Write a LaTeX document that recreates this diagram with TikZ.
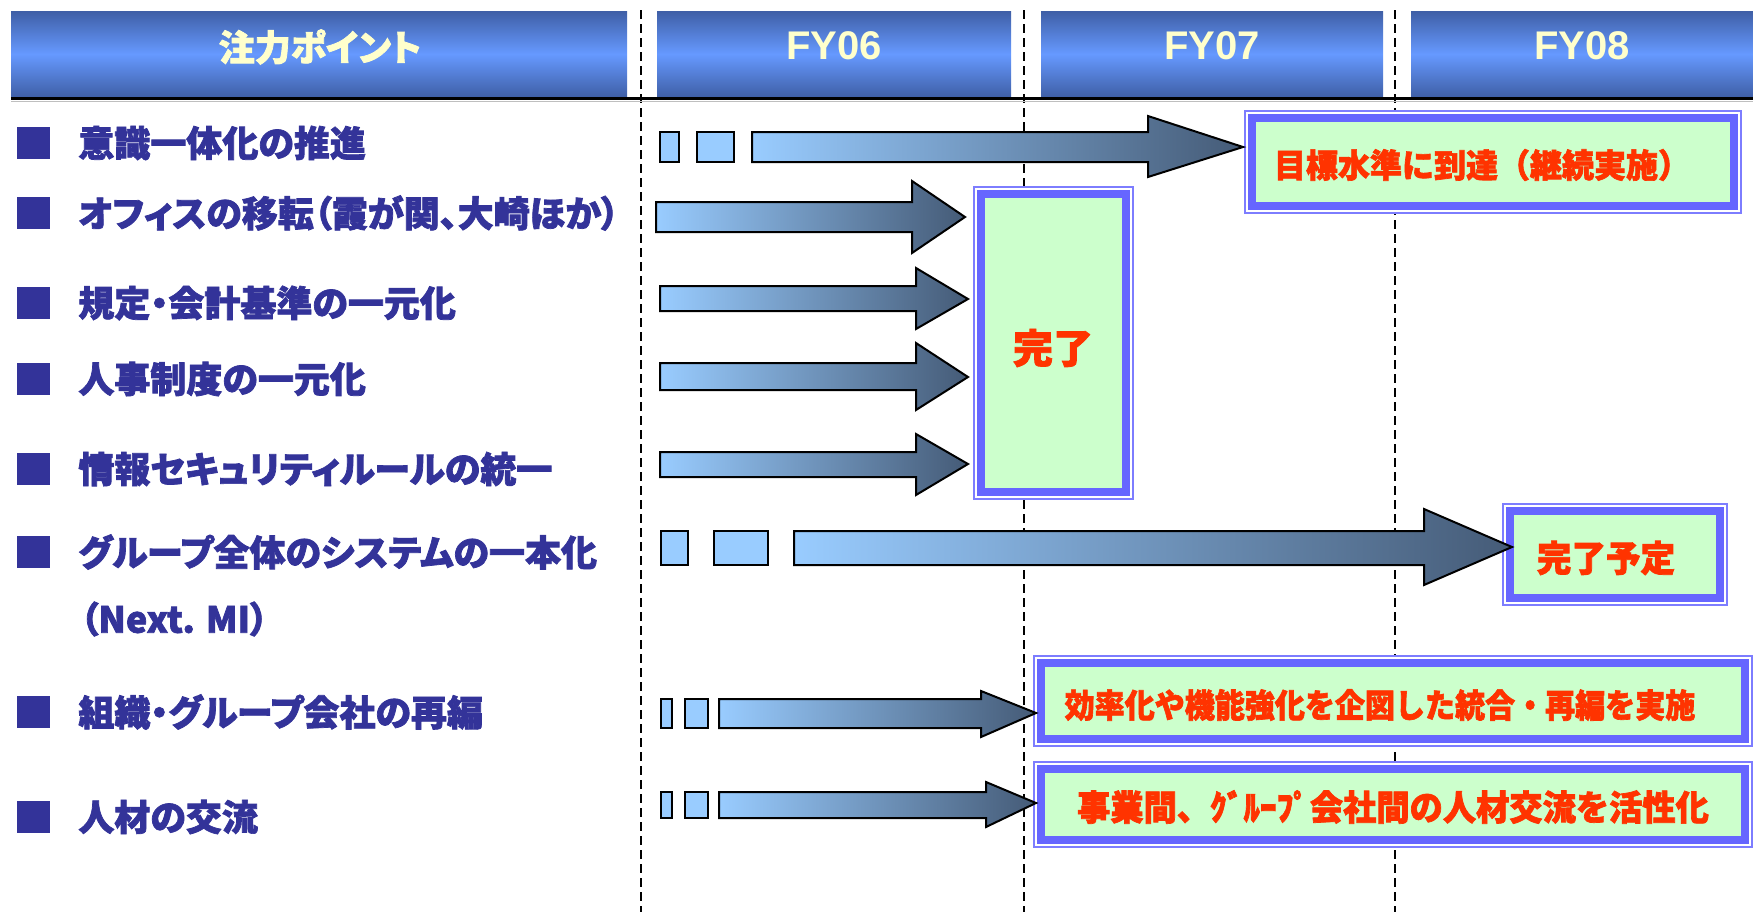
\documentclass[tikz,border=0pt]{standalone}
\usepackage{fontspec}
\newfontfamily\jp[RawFeature=+palt,BoldFeatures={FakeBold=2}]{Noto Sans CJK JP}
\newfontfamily\jpf[BoldFeatures={FakeBold=2}]{Noto Sans CJK JP}
\newfontfamily\arl{Liberation Sans}
\definecolor{hdark}{HTML}{3F5FA6}
\definecolor{hlight}{HTML}{6699FF}
\definecolor{htext}{HTML}{FFFFCC}
\definecolor{navy}{HTML}{333399}
\definecolor{boxblue}{HTML}{6666FF}
\definecolor{boxfill}{HTML}{CCFFCC}
\definecolor{redtxt}{HTML}{FF3300}
\definecolor{arrL}{HTML}{99CCFF}
\definecolor{arrR}{HTML}{455B77}
\newcommand{\jpl}{\jp\bfseries\fontsize{18pt}{22pt}\selectfont}
\newcommand{\barrow}[7]{\shadedraw[arrowstyle] (#1,#2) -- (#4,#2) -- (#4,#5) -- #7 -- (#4,#6) -- (#4,#3) -- (#1,#3) -- cycle;}
\begin{document}
\begin{tikzpicture}[x=0.5pt,y=-0.5pt,
  vdash/.style={black,line width=1pt,dash pattern=on 4.5pt off 2.5pt},
  hdr/.style={top color=hdark,bottom color=hdark,middle color=hlight,minimum height=43pt,inner sep=0pt,outer sep=0pt},
  hdrtxt/.style={text=htext,inner sep=0pt},
  bulletsq/.style={fill=navy,minimum width=16.5pt,minimum height=16pt,inner sep=0pt},
  itemtxt/.style={text=navy,anchor=west,inner sep=0pt,font=\jpl},
  arrowstyle/.style={left color=arrL,right color=arrR,draw=black,line width=1pt,line join=miter},
  sq/.style={fill=arrL,draw=black,line width=1pt},
  thinbox/.style={draw=boxblue!85,fill=white,line width=0.8pt},
  greenbox/.style={draw=boxblue,line width=4pt,fill=boxfill,inner sep=0pt,outer sep=0pt},
  redt/.style={text=redtxt,inner sep=0pt}]
\useasboundingbox (0,0) rectangle (1753,912);
% dashed year separators
\coordinate (d1t) at (641,10); \coordinate (d1b) at (641,912);
\coordinate (d2t) at (1024,10); \coordinate (d2b) at (1024,912);
\coordinate (d3t) at (1395,10); \coordinate (d3b) at (1395,912);
\draw[vdash] (d1t) -- (d1b);
\draw[vdash] (d2t) -- (d2b);
\draw[vdash] (d3t) -- (d3b);
% header
\node[hdr,minimum width=308pt] (h0) at (319,54) {};
\node[hdr,minimum width=177pt] (h1) at (834,54) {};
\node[hdr,minimum width=171pt] (h2) at (1212,54) {};
\node[hdr,minimum width=171pt] (h3) at (1582,54) {};
\node[hdrtxt,font={\jp\bfseries\fontsize{18pt}{22pt}\selectfont}] (h0t) at (320,47) {注力ポイント};
\node[hdrtxt,font={\arl\bfseries\fontsize{20pt}{24pt}\selectfont}] (h1t) at (834,46) {FY06};
\node[hdrtxt,font={\arl\bfseries\fontsize{20pt}{24pt}\selectfont}] (h2t) at (1212,46) {FY07};
\node[hdrtxt,font={\arl\bfseries\fontsize{20pt}{24pt}\selectfont}] (h3t) at (1582,46) {FY08};
\coordinate (rl) at (11,98.5); \coordinate (rr) at (1753,98.5);
\draw[black!25,line width=0.6pt] (11,101.5) -- (1753,101.5);
\draw[black,line width=1.5pt] (rl) -- (rr);
% left items
\node[bulletsq] (s1) at (33.5,143) {}; \node[itemtxt] (t1) at (78,143) {意識一体化の推進};
\node[bulletsq] (s2) at (33.5,213) {}; \node[itemtxt] (t2) at (78,213) {オフィスの移転（霞が関、大崎ほか）};
\node[bulletsq] (s3) at (33.5,303) {}; \node[itemtxt] (t3) at (78,303) {規定・会計基準の一元化};
\node[bulletsq] (s4) at (33.5,379) {}; \node[itemtxt] (t4) at (78,379) {人事制度の一元化};
\node[bulletsq] (s5) at (33.5,469) {}; \node[itemtxt] (t5) at (78,469) {情報セキュリティルールの統一};
\node[bulletsq] (s6) at (33.5,552) {}; \node[itemtxt] (t6) at (78,552) {グループ全体のシステムの一本化};
\node[itemtxt] (t6b) at (80,619) {（Next. MI）};
\node[bulletsq] (s7) at (33.5,712) {}; \node[itemtxt] (t7) at (78,712) {組織・グループ会社の再編};
\node[bulletsq] (s8) at (33.5,817) {}; \node[itemtxt] (t8) at (78,817) {人材の交流};
% result boxes
\draw[thinbox] (1245,111) rectangle (1741,213);
\node[greenbox,minimum width=241pt,minimum height=44pt] (b1) at (1493,162) {};
\draw[thinbox] (974,187) rectangle (1133,499);
\node[greenbox,minimum width=72.5pt,minimum height=149pt] (b2) at (1053.5,343) {};
\draw[thinbox] (1503,504) rectangle (1727,605);
\node[greenbox,minimum width=105pt,minimum height=43.5pt] (b3) at (1615,554.5) {};
\draw[thinbox] (1034,656) rectangle (1752,746);
\node[greenbox,minimum width=352pt,minimum height=38pt] (b4) at (1393,701) {};
\draw[thinbox] (1034,762) rectangle (1752,847);
\node[greenbox,minimum width=352pt,minimum height=35.5pt] (b5) at (1393,804.5) {};
\node[redt,font={\jpf\bfseries\fontsize{16.5pt}{20pt}\selectfont}] (r1) at (1482,165) {\scalebox{0.97}[1]{目標水準に到達（継続実施）}};
\node[redt,font={\jpf\bfseries\fontsize{20pt}{24pt}\selectfont}] (r2) at (1053,348) {完了};
\node[redt,font={\jpf\bfseries\fontsize{18pt}{22pt}\selectfont}] (r3) at (1606,558) {\scalebox{0.96}[1]{完了予定}};
\node[redt,font={\jpf\bfseries\fontsize{16.5pt}{20pt}\selectfont}] (r4) at (1380,705) {\scalebox{0.91}[1]{効率化や機能強化を企図した統合・再編を実施}};
\node[redt,font={\jpf\bfseries\fontsize{17.5pt}{20pt}\selectfont}] (r5) at (1393,807) {\scalebox{0.95}[1]{事業間、ｸﾞﾙｰﾌﾟ会社間の人材交流を活性化}};
% arrows
\coordinate (p1) at (1243,147);
\coordinate (p2) at (965,217);
\coordinate (p3) at (968,299);
\coordinate (p4) at (968,377);
\coordinate (p5) at (968,464);
\coordinate (p6) at (1512,547);
\coordinate (p7) at (1036,713);
\coordinate (p8) at (1036,803);
\filldraw[sq] (660,132) rectangle (679,162);
\filldraw[sq] (697,132) rectangle (734,162);
\barrow{752}{132}{162}{1148}{116}{177}{(p1)}
\barrow{656}{202}{232}{912}{181}{253}{(p2)}
\barrow{660}{286}{311}{916}{268}{329}{(p3)}
\barrow{660}{363}{390}{916}{343}{410}{(p4)}
\barrow{660}{452}{477}{916}{434}{495}{(p5)}
\filldraw[sq] (661,531) rectangle (688,565);
\filldraw[sq] (714,531) rectangle (768,565);
\barrow{794}{531}{565}{1424}{509}{585}{(p6)}
\filldraw[sq] (661,699) rectangle (672,728);
\filldraw[sq] (685,699) rectangle (708,728);
\barrow{719}{699}{728}{981}{691}{737}{(p7)}
\filldraw[sq] (661,792) rectangle (672,818);
\filldraw[sq] (685,792) rectangle (708,818);
\barrow{719}{792}{818}{986}{782}{827}{(p8)}
\end{tikzpicture}
\end{document}
